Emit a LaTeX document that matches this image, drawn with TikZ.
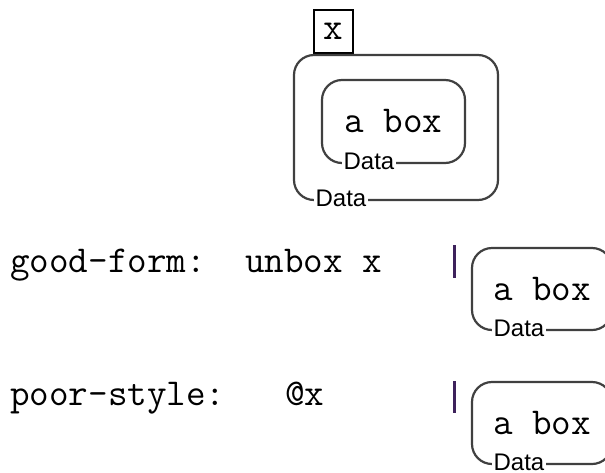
\documentclass[tikz,border=0pt]{standalone}
\usepackage{fontspec}
\newfontfamily\tagfont{Liberation Sans}
\definecolor{barcol}{RGB}{62,34,92}
\begin{document}
\begin{tikzpicture}[x=1pt,y=-1pt]
        \tikzstyle{rbox}=[draw=black!75, line width=2.2pt, rounded corners=20pt, inner sep=0pt, font=\ttfamily\fontsize{38}{40}\selectfont]
        \tikzstyle{sq}=[draw, line width=1.4pt, inner sep=0pt, minimum width=39pt, minimum height=43pt, font=\ttfamily\fontsize{38}{40}\selectfont]
        \tikzstyle{tag}=[fill=white, inner sep=1.5pt, anchor=west, yshift=3pt, font=\tagfont\fontsize{24}{26}\selectfont]
        \tikzstyle{code}=[inner sep=0pt, anchor=base west, font=\ttfamily\fontsize{38}{40}\selectfont]
        \tikzstyle{bar}=[line width=3pt, draw=barcol]

        \useasboundingbox (0,0) rectangle (605,472);
        \clip (0,0) rectangle (605,472);

        % x holding a box of a box
        \node[sq] (x) at (333.5,31.5) {x};
        \node[rbox, minimum width=204pt, minimum height=145pt] (o) at (396,127.5) {};
        \node[rbox, minimum width=143pt, minimum height=83pt] (i) at (393.5,121.5) {a box};
        \node[tag] (di) at ([xshift=21pt]i.south west) {Data};
        \node[tag] (do) at ([xshift=21pt]o.south west) {Data};

        % good-form
        \node[code] (g) at (10,272) {good-form:};
        \node[code] (gu) at (245,272) {unbox x};
        \coordinate (gt) at (454,245);
        \coordinate (gb) at (454,278);
        \draw[bar] (gt) -- (gb);
        \node[rbox, minimum width=140pt, minimum height=82pt] (gr) at (542,289) {a box};
        \node[tag] (dg) at ([xshift=21pt]gr.south west) {Data};

        % poor-style
        \node[code] (p) at (10,405) {poor-style:};
        \node[code] (pa) at (285,405) {@x};
        \coordinate (pt) at (454,381);
        \coordinate (pb) at (454,413);
        \draw[bar] (pt) -- (pb);
        \node[rbox, minimum width=140pt, minimum height=82pt] (pr) at (542,423) {a box};
        \node[tag] (dp) at ([xshift=21pt]pr.south west) {Data};
    \end{tikzpicture}
\end{document}
